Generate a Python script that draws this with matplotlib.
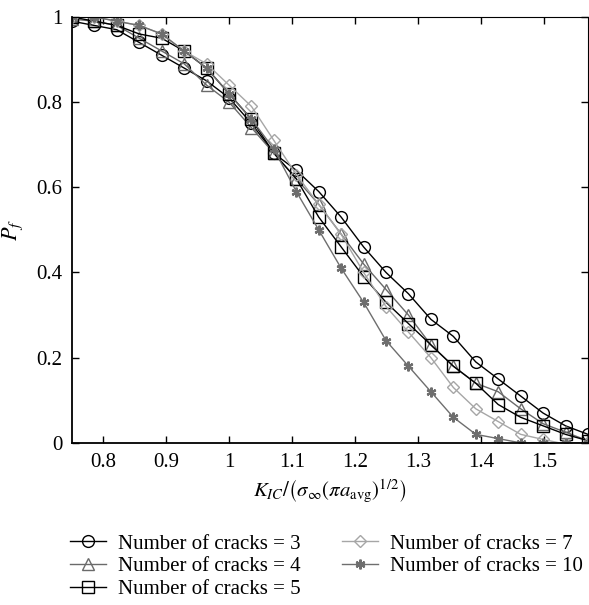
"""
Failure probability versus normalised fracture toughness for several crack counts.
"""

import numpy as np
import matplotlib
matplotlib.use("Agg")
import matplotlib.pyplot as plt
from matplotlib.ticker import FuncFormatter

# Normalised toughness K_IC / (sigma_inf * (pi * a_avg)^(1/2)), 24 samples
k_norm = np.linspace(0.75, 1.57, 24)

pf_3 = [0.99, 0.98, 0.97, 0.94, 0.91, 0.88, 0.85, 0.81, 0.75, 0.68, 0.64, 0.59,
        0.53, 0.46, 0.40, 0.35, 0.29, 0.25, 0.19, 0.15, 0.11, 0.07, 0.04, 0.02]
pf_4 = [0.995, 0.99, 0.98, 0.95, 0.92, 0.89, 0.84, 0.80, 0.74, 0.68, 0.62, 0.56,
        0.49, 0.42, 0.36, 0.30, 0.23, 0.18, 0.14, 0.12, 0.08, 0.045, 0.025, 0.005]
pf_5 = [1.0, 0.99, 0.98, 0.96, 0.95, 0.92, 0.88, 0.82, 0.76, 0.68, 0.62, 0.53,
        0.46, 0.39, 0.33, 0.28, 0.23, 0.18, 0.14, 0.09, 0.06, 0.04, 0.02, 0.005]
pf_7 = [1.0, 1.0, 0.99, 0.98, 0.96, 0.92, 0.89, 0.84, 0.79, 0.71, 0.63, 0.56,
        0.49, 0.40, 0.32, 0.26, 0.20, 0.13, 0.08, 0.05, 0.02, 0.008, -0.003, 0.0]
pf_10 = [1.0, 1.0, 0.99, 0.98, 0.96, 0.92, 0.88, 0.82, 0.76, 0.69, 0.59, 0.50,
         0.41, 0.33, 0.24, 0.18, 0.12, 0.06, 0.02, 0.01, 0.0, 0.0, 0.0, 0.0]

labels = ["Number of cracks = 3", "Number of cracks = 4", "Number of cracks = 5",
          "Number of cracks = 7", "Number of cracks = 10"]
x_ticks = [0.8, 0.9, 1.0, 1.1, 1.2, 1.3, 1.4, 1.5]
y_ticks = [0, 0.2, 0.4, 0.6, 0.8, 1.0]

plt.rcParams["font.family"] = ["Liberation Serif", "DejaVu Serif"]
plt.rcParams["mathtext.fontset"] = "stix"
plt.rcParams["font.size"] = 15

fig = plt.figure(figsize=(5.89, 6.05), dpi=100)
ax = fig.add_axes([0.1222, 0.268, 0.876, 0.704])

# open markers, except the six-armed asterisk for 10 cracks
styles = [
    dict(marker="o", color="black", ms=8.5, mew=1.0),
    dict(marker="^", color="#6a6a6a", ms=8.5, mew=1.0),
    dict(marker="s", color="black", ms=8, mew=1.0),
    dict(marker="D", color="#a6a6a6", ms=6.5, mew=1.0),
    dict(marker=(6, 2, 0), color="#6e6e6e", ms=7, mew=1.6),
]
series = [pf_3, pf_4, pf_5, pf_7, pf_10]

for pf, st, lab in zip(series, styles, labels):
    ax.plot(k_norm, pf, color=st["color"], lw=1.0, marker=st["marker"],
            ms=st["ms"], mfc="none", mec=st["color"], mew=st["mew"], label=lab)

ax.set_xlim(0.75, 1.57)
ax.set_ylim(0, 1)
ax.set_xticks(x_ticks)
ax.set_yticks(y_ticks)
fmt = FuncFormatter(lambda v, _: f"{v:g}")
ax.xaxis.set_major_formatter(fmt)
ax.yaxis.set_major_formatter(fmt)
ax.tick_params(direction="in", length=5, width=1, top=True, right=True,
               labelsize=15, pad=7)
for side in ["left", "bottom"]:
    ax.spines[side].set_linewidth(1.3)
for side in ["top", "right"]:
    ax.spines[side].set_linewidth(0.8)

ax.set_xlabel(r"$K_{IC}/\left(\sigma_{\infty}(\pi a_{\mathrm{avg}})^{1/2}\right)$",
              fontsize=15, labelpad=4)
ax.set_ylabel(r"$P_f$", fontsize=16, labelpad=8)

fig.legend(loc="upper left", bbox_to_anchor=(0.105, 0.131), ncol=2,
           frameon=False, fontsize=15, handlelength=1.7, handletextpad=0.6,
           labelspacing=0.15, columnspacing=2.0, borderaxespad=0)

fig.savefig("out.png", dpi=100)
